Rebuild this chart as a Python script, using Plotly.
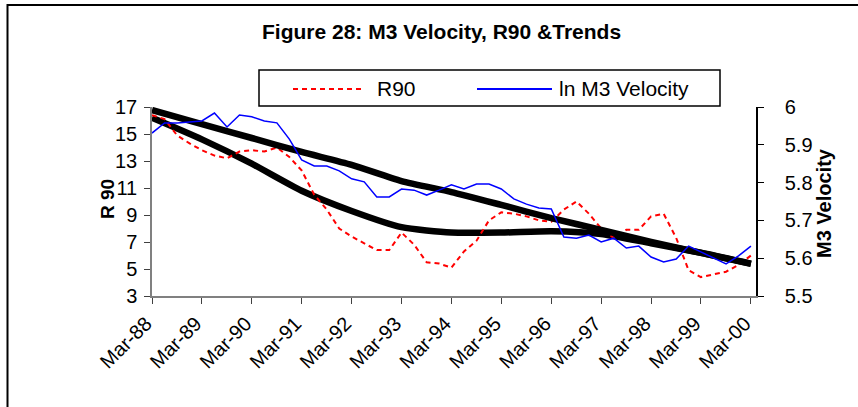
import pandas as pd
import plotly.graph_objects as go

# quarterly observations, Mar-88 .. Mar-00
quarters = pd.date_range("1988-03-01", "2000-03-01", freq="QS-MAR").strftime("%Y-%m-%d").tolist()

r90 = [16.4, 16.1, 14.9, 14.3, 13.8, 13.4, 13.2, 13.7, 13.8, 13.7, 14.0, 13.3, 12.3,
       10.5, 9.4, 8.0, 7.4, 6.9, 6.4, 6.4, 7.7, 6.8, 5.5, 5.4, 5.1, 6.3, 7.1, 8.6,
       9.2, 9.1, 8.9, 8.6, 8.5, 9.4, 10.0, 9.1, 8.0, 7.3, 7.9, 7.9, 8.9, 9.1, 7.3,
       4.9, 4.4, 4.6, 4.8, 5.3, 6.0]

ln_m3_velocity = [5.931, 5.958, 5.958, 5.960, 5.963, 5.984, 5.947, 5.979, 5.974, 5.963,
                  5.958, 5.915, 5.860, 5.844, 5.844, 5.831, 5.810, 5.802, 5.762, 5.762,
                  5.783, 5.780, 5.767, 5.780, 5.794, 5.783, 5.796, 5.796, 5.783, 5.757,
                  5.743, 5.733, 5.730, 5.656, 5.653, 5.661, 5.643, 5.653, 5.627, 5.632,
                  5.603, 5.590, 5.598, 5.632, 5.616, 5.601, 5.585, 5.606, 5.632]

# trend lines read once a year
years = [f"{y}-03-01" for y in range(1988, 2001)]
velocity_trend = [5.992, 5.955, 5.918, 5.881, 5.847, 5.804, 5.775, 5.741, 5.706,
                  5.675, 5.643, 5.614, 5.585]
r90_trend = [16.2, 14.6, 12.8, 10.8, 9.3, 8.1, 7.7, 7.7, 7.8, 7.6, 6.9, 6.2, 5.4]

tick_labels = ["Mar-88", "Mar-89", "Mar-90", "Mar-91", "Mar-92", "Mar-93", "Mar-94",
               "Mar-95", "Mar-96", "Mar-97", "Mar-98", "Mar-99", "Mar-00"]

FONT = "Liberation Sans, Arial, sans-serif"

# plot area in pixels
L, R, T, B = 152, 756, 107, 296


def px(x):
    return (x - L) / (R - L)


def py(y):
    return (B - y) / (B - T)


fig = go.Figure()

fig.add_trace(go.Scatter(x=years, y=velocity_trend, yaxis="y2", mode="lines",
                         line=dict(color="black", width=6.5, shape="spline", smoothing=0.6)))
fig.add_trace(go.Scatter(x=years, y=r90_trend, mode="lines",
                         line=dict(color="black", width=6.5, shape="spline", smoothing=0.6)))
fig.add_trace(go.Scatter(x=quarters, y=r90, mode="lines", name="R90",
                         line=dict(color="#ff0000", width=2, dash="5px,4px")))
fig.add_trace(go.Scatter(x=quarters, y=ln_m3_velocity, yaxis="y2", mode="lines",
                         name="ln M3 Velocity", line=dict(color="#0000ff", width=1.5)))

fig.update_layout(
    width=858, height=407,
    margin=dict(l=L, r=858 - R, t=T, b=407 - B),
    paper_bgcolor="white", plot_bgcolor="white",
    showlegend=False,
    font=dict(family=FONT, size=20, color="black"),
    xaxis=dict(type="date", range=["1988-03-01", "2000-04-07"],
               tickvals=years, ticktext=tick_labels, tickangle=-45,
               ticks="outside", ticklen=6, tickcolor="#404040",
               showline=True, linecolor="#808080", linewidth=2,
               showgrid=False, zeroline=False, ticklabelshift=-6),
    yaxis=dict(range=[3, 17], tick0=3, dtick=2, ticks="outside", ticklen=6,
               tickcolor="#404040", showline=True, linecolor="#808080",
               linewidth=1.5, showgrid=False, zeroline=False,
               ticklabelstandoff=3),
    yaxis2=dict(range=[5.5, 6], dtick=0.1, overlaying="y", side="right",
                ticks="outside", ticklen=6, tickcolor="black", showline=True,
                linecolor="black", linewidth=1.5, showgrid=False, zeroline=False,
                ticklabelstandoff=17),
)

shapes = [
    # outer chart border
    dict(type="rect", xref="paper", yref="paper", x0=px(7.5), x1=px(870),
         y0=py(420), y1=py(5), line=dict(color="black", width=2)),
    # legend box
    dict(type="rect", xref="paper", yref="paper", x0=px(259), x1=px(720),
         y0=py(106), y1=py(70), line=dict(color="black", width=1.5),
         fillcolor="white"),
    dict(type="line", xref="paper", yref="paper", x0=px(293), x1=px(365),
         y0=py(89), y1=py(89), line=dict(color="#ff0000", width=2, dash="5px,4px")),
    dict(type="line", xref="paper", yref="paper", x0=px(477), x1=px(552),
         y0=py(89), y1=py(89), line=dict(color="#0000ff", width=2)),
]
fig.update_layout(shapes=shapes)

annotations = [
    dict(text="<b>Figure 28: M3 Velocity, R90 &Trends</b>", x=px(441), y=py(31),
         font=dict(size=21)),
    dict(text="R90", x=px(375), y=py(89), xanchor="left", font=dict(size=21)),
    dict(text="ln M3 Velocity", x=px(557), y=py(89), xanchor="left", font=dict(size=21)),
    dict(text="<b>R 90</b>", x=px(107), y=py(199), textangle=-90, font=dict(size=19)),
    dict(text="<b>M3 Velocity</b>", x=px(824), y=py(203), textangle=-90,
         font=dict(size=20)),
]
for a in annotations:
    a.setdefault("xanchor", "center")
    a.update(xref="paper", yref="paper", yanchor="middle", showarrow=False)
fig.update_layout(annotations=annotations)

# drop the page's default body margin so the figure sits at the window corner
fig.write_html("out.html", config={"displayModeBar": False},
               post_script="document.body.style.margin='0';")
